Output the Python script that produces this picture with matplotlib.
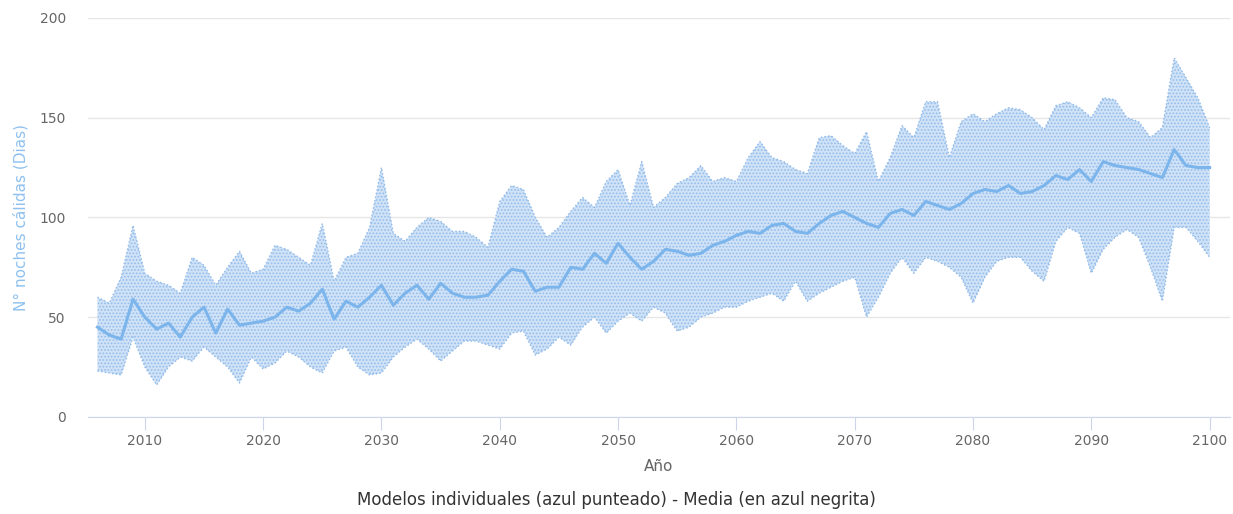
import numpy as np
import matplotlib
matplotlib.use("Agg")
import matplotlib.pyplot as plt

# years of the projection
years = np.arange(2006, 2101)

# ensemble mean (bold blue line)
media = [45, 41, 39, 59, 50, 44, 47, 40, 50, 55, 42, 54, 46, 47, 48, 50, 55, 53, 57, 64,
         49, 58, 55, 60, 66, 56, 62, 66, 59, 67, 62, 60, 60, 61, 68, 74, 73, 63, 65, 65,
         75, 74, 82, 77, 87, 80, 74, 78, 84, 83, 81, 82, 86, 88, 91, 93, 92, 96, 97, 93,
         92, 97, 101, 103, 100, 97, 95, 102, 104, 101, 108, 106, 104, 107, 112, 114, 113, 116, 112, 113,
         116, 121, 119, 124, 118, 128, 126, 125, 124, 122, 120, 134, 126, 125, 125]

# upper edge of the individual models
maximo = [60, 57, 70, 96, 72, 68, 66, 62, 80, 76, 66, 75, 83, 72, 74, 86, 84, 80, 76, 97,
          68, 80, 82, 95, 125, 92, 88, 95, 100, 98, 93, 93, 90, 85, 108, 116, 114, 100, 90, 95,
          103, 110, 105, 118, 124, 106, 128, 105, 110, 117, 120, 126, 118, 120, 118, 130, 138, 130, 128, 124,
          122, 140, 141, 136, 132, 143, 118, 130, 146, 140, 158, 158, 130, 148, 152, 148, 152, 155, 154, 150,
          144, 156, 158, 155, 150, 160, 159, 150, 148, 140, 145, 180, 170, 160, 145]

# lower edge of the individual models
minimo = [23, 22, 21, 40, 25, 16, 25, 30, 28, 35, 30, 25, 17, 30, 24, 27, 33, 30, 25, 22,
          33, 35, 25, 21, 22, 30, 35, 39, 34, 28, 33, 38, 38, 36, 34, 42, 43, 31, 34, 40,
          36, 45, 50, 42, 48, 52, 48, 55, 52, 43, 45, 50, 52, 55, 55, 58, 60, 62, 58, 68,
          58, 62, 65, 68, 70, 50, 60, 72, 80, 72, 80, 78, 75, 70, 57, 70, 78, 80, 80, 73,
          68, 88, 95, 92, 72, 84, 90, 94, 90, 75, 58, 95, 95, 88, 80]

plt.rcParams['font.family'] = ['DejaVu Sans']
plt.rcParams['hatch.linewidth'] = 0.8

fig = plt.figure(figsize=(12.33, 5.14), dpi=100)
ax = fig.add_axes([0.0714, 0.189, 0.926, 0.776])

# envelope of the models, dotted texture
ax.fill_between(years, minimo, maximo, facecolor='#cfe2f7', edgecolor='#94bdea',
                hatch='.....', linewidth=0, zorder=2)
ax.plot(years, maximo, color='#8fb9e8', lw=1, ls=':', zorder=3)
ax.plot(years, minimo, color='#8fb9e8', lw=1, ls=':', zorder=3)

# mean
ax.plot(years, media, color='#7cb5ec', lw=2.2, zorder=4, solid_joinstyle='round')

ax.set_xlim(2005.2, 2101.7)
ax.set_ylim(0, 200)
ax.set_yticks([0, 50, 100, 150, 200])
ax.set_xticks(np.arange(2010, 2101, 10))
ax.grid(axis='y', color='#e6e6e6', lw=1, zorder=0)
ax.set_axisbelow(True)

for s in ['top', 'right', 'left']:
    ax.spines[s].set_visible(False)
ax.spines['bottom'].set_color('#ccd6eb')
ax.tick_params(axis='y', length=0, labelsize=10, labelcolor='#666666', pad=16)
ax.tick_params(axis='x', length=9, color='#ccd6eb', labelsize=10, labelcolor='#666666', pad=3)

ax.set_ylabel('N° noches cálidas (Dias)', color='#8fc1f0', fontsize=11, labelpad=8)
ax.set_xlabel('Año', color='#666666', fontsize=11, labelpad=8)

fig.text(0.5, 0.028, 'Modelos individuales (azul punteado) - Media (en azul negrita)',
         ha='center', va='center', fontsize=12, color='#333333')

fig.savefig('out.png', dpi=100)
